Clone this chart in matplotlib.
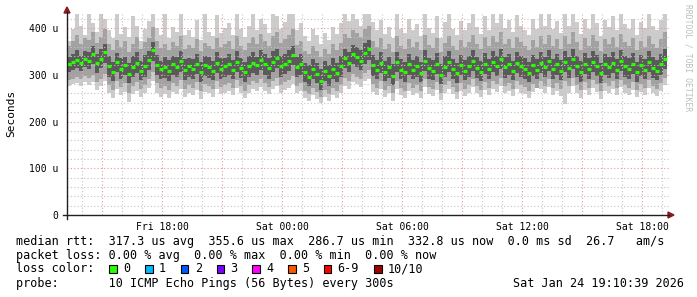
import numpy as np
import matplotlib
matplotlib.use("Agg")
import matplotlib.pyplot as plt
from matplotlib.lines import Line2D
from matplotlib.patches import Rectangle, Polygon

W, H = 697, 297

# time axis: hours since Fri 00:00, one sample every 12 min starting Fri 13:15
t_start = 13.25
t_step = 0.2

# rtt values in microseconds
median = [
    322, 328, 331, 326, 334, 330, 345, 325, 333, 348,
    318, 306, 327, 312, 321, 302, 316, 325, 309, 318,
    331, 352, 320, 312, 316, 307, 322, 316, 329, 310,
    318, 312, 324, 306, 320, 316, 309, 325, 313, 318,
    322, 310, 327, 315, 305, 318, 326, 320, 331, 322,
    314, 327, 335, 318, 324, 330, 342, 316, 322, 305,
    296, 312, 302, 287, 308, 297, 312, 304, 318, 335,
    326, 344, 338, 330, 346, 356, 320, 311, 326, 306,
    316, 298, 327, 311, 305, 322, 310, 318, 304, 330,
    314, 308, 324, 300, 317, 327, 312, 303, 321, 309,
    318, 330, 315, 306, 324, 312, 327, 319, 333, 316,
    322, 308, 325, 318, 313, 304, 320, 310, 326, 316,
    330, 312, 322, 308, 327, 315, 334, 318, 306, 324,
    312, 328, 319, 303, 323, 316, 326, 310, 329, 318,
    312, 324, 305, 320, 311, 328, 315, 309, 322, 333,
]
inner_hi = [
    338, 345, 352, 340, 350, 348, 362, 344, 355, 366,
    340, 328, 346, 335, 338, 326, 340, 348, 330, 342,
    350, 370, 342, 330, 338, 332, 340, 338, 350, 334,
    336, 334, 345, 328, 340, 338, 330, 348, 335, 336,
    344, 332, 350, 336, 328, 340, 348, 338, 352, 344,
    336, 350, 356, 340, 345, 352, 362, 338, 344, 326,
    320, 334, 325, 312, 330, 320, 336, 326, 340, 356,
    348, 364, 360, 352, 368, 374, 342, 332, 348, 330,
    338, 322, 348, 334, 328, 344, 332, 340, 328, 352,
    336, 332, 346, 324, 340, 350, 334, 326, 342, 332,
    340, 352, 338, 330, 346, 334, 350, 340, 355, 338,
    345, 330, 348, 340, 336, 328, 342, 334, 348, 338,
    352, 334, 345, 332, 350, 338, 356, 340, 330, 346,
    335, 350, 342, 326, 345, 338, 348, 334, 352, 340,
    336, 346, 328, 342, 334, 350, 338, 332, 345, 355,
]
inner_lo = [
    306, 310, 314, 308, 316, 312, 322, 304, 314, 326,
    296, 286, 305, 292, 300, 282, 295, 304, 288, 296,
    310, 330, 300, 290, 294, 286, 300, 295, 306, 288,
    296, 290, 302, 285, 298, 294, 288, 304, 292, 296,
    300, 290, 306, 294, 284, 296, 304, 300, 310, 300,
    292, 305, 314, 296, 302, 308, 320, 295, 300, 284,
    276, 290, 282, 268, 286, 276, 290, 284, 296, 314,
    305, 322, 316, 310, 324, 332, 298, 290, 304, 286,
    294, 278, 305, 290, 284, 300, 290, 296, 284, 308,
    292, 288, 302, 280, 296, 305, 292, 282, 300, 288,
    296, 308, 294, 286, 302, 290, 305, 298, 312, 294,
    300, 288, 304, 296, 292, 284, 298, 290, 304, 295,
    308, 290, 300, 288, 305, 294, 312, 296, 285, 302,
    290, 306, 298, 283, 300, 294, 304, 290, 307, 296,
    290, 302, 285, 298, 290, 306, 294, 288, 300, 312,
]
mid_hi = [
    362, 372, 385, 366, 378, 374, 392, 368, 380, 398,
    366, 352, 375, 360, 372, 348, 365, 380, 356, 370,
    378, 402, 372, 358, 366, 352, 370, 362, 384, 356,
    364, 358, 376, 350, 368, 362, 355, 378, 360, 365,
    372, 356, 382, 362, 352, 368, 380, 366, 388, 372,
    362, 384, 392, 368, 376, 386, 398, 364, 372, 350,
    345, 362, 350, 338, 356, 344, 365, 352, 368, 388,
    378, 396, 390, 380, 398, 405, 372, 360, 378, 356,
    366, 348, 382, 362, 356, 376, 360, 370, 352, 385,
    364, 358, 378, 348, 368, 382, 362, 352, 375, 360,
    370, 386, 366, 356, 380, 362, 384, 370, 392, 366,
    376, 358, 380, 370, 362, 352, 374, 360, 382, 366,
    386, 362, 376, 356, 384, 366, 392, 370, 354, 378,
    362, 385, 372, 350, 376, 366, 380, 360, 388, 370,
    362, 378, 352, 372, 360, 384, 366, 358, 376, 392,
]
mid_lo = [
    288, 292, 296, 290, 298, 294, 300, 284, 292, 302,
    278, 268, 286, 274, 282, 262, 276, 284, 270, 278,
    290, 305, 282, 272, 276, 268, 282, 276, 288, 270,
    278, 272, 284, 266, 280, 276, 270, 286, 274, 278,
    282, 272, 288, 276, 266, 278, 286, 282, 290, 282,
    274, 286, 294, 278, 284, 288, 298, 276, 282, 266,
    258, 272, 264, 252, 268, 258, 272, 266, 278, 294,
    286, 302, 296, 290, 304, 310, 280, 272, 286, 268,
    276, 260, 286, 272, 266, 282, 272, 278, 266, 290,
    274, 270, 284, 262, 278, 286, 274, 264, 282, 270,
    278, 290, 276, 268, 284, 272, 286, 280, 294, 276,
    282, 270, 286, 278, 274, 266, 280, 272, 286, 277,
    290, 272, 282, 270, 287, 276, 294, 278, 267, 284,
    272, 288, 280, 265, 282, 276, 286, 272, 289, 278,
    272, 284, 267, 280, 272, 288, 276, 270, 282, 294,
]
rtt_max = [
    372, 398, 432, 405, 385, 432, 410, 392, 432, 420,
    395, 378, 432, 388, 402, 380, 425, 405, 372, 398,
    415, 432, 400, 385, 432, 378, 402, 392, 432, 385,
    396, 380, 418, 375, 432, 392, 384, 428, 390, 400,
    410, 386, 432, 398, 380, 405, 432, 395, 420, 408,
    390, 432, 425, 398, 412, 432, 430, 396, 410, 382,
    372, 398, 385, 365, 390, 375, 402, 388, 410, 432,
    415, 432, 420, 405, 432, 432, 412, 395, 418, 388,
    402, 378, 432, 398, 390, 420, 395, 408, 382, 432,
    400, 390, 425, 378, 412, 432, 398, 385, 415, 395,
    410, 432, 402, 388, 425, 396, 432, 410, 432, 400,
    418, 392, 428, 405, 396, 385, 420, 398, 432, 405,
    432, 398, 415, 390, 432, 405, 432, 412, 388, 420,
    398, 430, 410, 382, 418, 402, 425, 395, 432, 408,
    398, 420, 385, 412, 400, 432, 405, 395, 418, 432,
]
rtt_min = [
    275, 280, 282, 276, 284, 278, 285, 268, 276, 286,
    260, 250, 270, 256, 264, 242, 258, 266, 252, 262,
    272, 286, 262, 252, 258, 250, 264, 258, 270, 252,
    262, 256, 268, 248, 264, 260, 252, 270, 258, 262,
    266, 256, 272, 260, 250, 262, 270, 266, 274, 266,
    258, 270, 276, 262, 268, 272, 280, 260, 266, 250,
    244, 256, 248, 240, 252, 244, 256, 250, 262, 276,
    270, 284, 280, 274, 286, 292, 264, 256, 270, 252,
    260, 244, 270, 256, 250, 266, 256, 262, 250, 274,
    258, 254, 268, 246, 262, 270, 258, 248, 266, 254,
    262, 274, 260, 252, 268, 256, 270, 264, 276, 260,
    266, 254, 270, 262, 258, 250, 264, 272, 270, 260,
    274, 256, 266, 254, 238, 260, 276, 262, 251, 268,
    256, 272, 264, 248, 266, 260, 270, 256, 274, 262,
    256, 268, 252, 264, 256, 272, 260, 254, 266, 278,
]

time_ticks = [18, 24, 30, 36, 42]
time_labels = ["Fri 18:00", "Sat 00:00", "Sat 06:00", "Sat 12:00", "Sat 18:00"]
y_ticks = [0, 100, 200, 300, 400]
y_labels = ["0", "100 u", "200 u", "300 u", "400 u"]

legend_lines = [
    "median rtt:  317.3 us avg  355.6 us max  286.7 us min  332.8 us now  0.0 ms sd  26.7   am/s",
    "packet loss: 0.00 % avg  0.00 % max  0.00 % min  0.00 % now",
]
loss_names = ["0", "1", "2", "3", "4", "5", "6-9", "10/10"]
loss_colors = ["#26ff00", "#00b8ff", "#0059ff", "#7e00ff", "#ff00ff", "#ff5500", "#ff0000", "#a10000"]
probe_text = "probe:       10 ICMP Echo Pings (56 Bytes) every 300s"
stamp_text = "Sat Jan 24 19:10:39 2026"

MONO = "DejaVu Sans Mono"


def fx(x):
    return x / W


def fy(y):
    return 1 - y / H


fig = plt.figure(figsize=(W / 100, H / 100), dpi=100)
fig.patch.set_facecolor("white")
ax = fig.add_axes([fx(67), fy(215), fx(602), 201 / H])
ax.set_xlim(13.25, 43.35)
ax.set_ylim(0, 430)

n = len(median)
edges = t_start + t_step * np.arange(n + 1)
ax.stairs(rtt_max, edges, baseline=rtt_min, fill=True, color="#cccccc", lw=0, zorder=1)
ax.stairs(mid_hi, edges, baseline=mid_lo, fill=True, color="#a2a2a2", lw=0, zorder=1)
ax.stairs(inner_hi, edges, baseline=inner_lo, fill=True, color="#5a5a5a", lw=0, zorder=1)

# grid drawn over the smoke, like rrdtool
for h in np.arange(14, 44, 1):
    if h % 3 == 0:
        ax.axvline(h, color="#e49a9a", lw=0.8, ls=(0, (1, 2)), zorder=2)
    else:
        ax.axvline(h, color="#c4c4c4", lw=0.8, ls=(0, (1, 2)), zorder=2)
for v in range(20, 430, 20):
    if v % 100 == 0:
        ax.axhline(v, color="#e49a9a", lw=0.8, ls=(0, (1, 2)), zorder=2)
    else:
        ax.axhline(v, color="#c4c4c4", lw=0.8, ls=(0, (1, 2)), zorder=2)

centers = edges[:-1] + t_step / 2
ax.hlines(median, centers - 0.08, centers + 0.08, color="#26ff00", lw=2.3, zorder=3)

for s in ax.spines.values():
    s.set_visible(False)
ax.set_xticks(time_ticks, time_labels, fontsize=7, family=MONO)
ax.set_yticks(y_ticks, y_labels, fontsize=7, family=MONO)
ax.tick_params(length=0, pad=5, colors="#000000")
ax.tick_params(axis="y", pad=6)

# axes with arrows
fig.add_artist(Line2D([fx(67), fx(67)], [fy(219), fy(12)], color="#202020", lw=1))
fig.add_artist(Line2D([fx(63), fx(669)], [fy(215), fy(215)], color="#202020", lw=1))
fig.add_artist(Polygon([[fx(64), fy(13)], [fx(70), fy(13)], [fx(67), fy(7)]],
                       closed=True, color="#8b1a1a"))
fig.add_artist(Polygon([[fx(668), fy(212)], [fx(668), fy(218)], [fx(674), fy(215)]],
                       closed=True, color="#8b1a1a"))

fig.text(fx(11), fy(113), "Seconds", rotation=90, ha="center", va="center",
         fontsize=8, family=MONO)
fig.text(fx(688), fy(4), "RRDTOOL / TOBI OETIKER", rotation=270, ha="center", va="top",
         fontsize=5.8, family=MONO, color="#bdbdbd")

cw = 7.15
x0 = 16
fig.text(fx(x0), fy(241), legend_lines[0], ha="left", va="center", fontsize=8.5, family=MONO)
fig.text(fx(x0), fy(255.5), legend_lines[1], ha="left", va="center", fontsize=8.5, family=MONO)
fig.text(fx(x0), fy(269), "loss color:", ha="left", va="center", fontsize=8.5, family=MONO)
col = 13
for name, c in zip(loss_names, loss_colors):
    bx = x0 + col * cw
    fig.add_artist(Rectangle((fx(bx + 0.5), fy(273)), 7.5 / W, 8 / H,
                             facecolor=c, edgecolor="black", lw=0.8))
    fig.text(fx(bx + 2 * cw), fy(269), name, ha="left", va="center", fontsize=8.5, family=MONO)
    col += 2 + len(name) + 2
fig.text(fx(x0), fy(283.5), probe_text, ha="left", va="center", fontsize=8.5, family=MONO)
fig.text(fx(684), fy(283.5), stamp_text, ha="right", va="center", fontsize=8.5, family=MONO)

fig.savefig("out.png", dpi=100, facecolor="white")
